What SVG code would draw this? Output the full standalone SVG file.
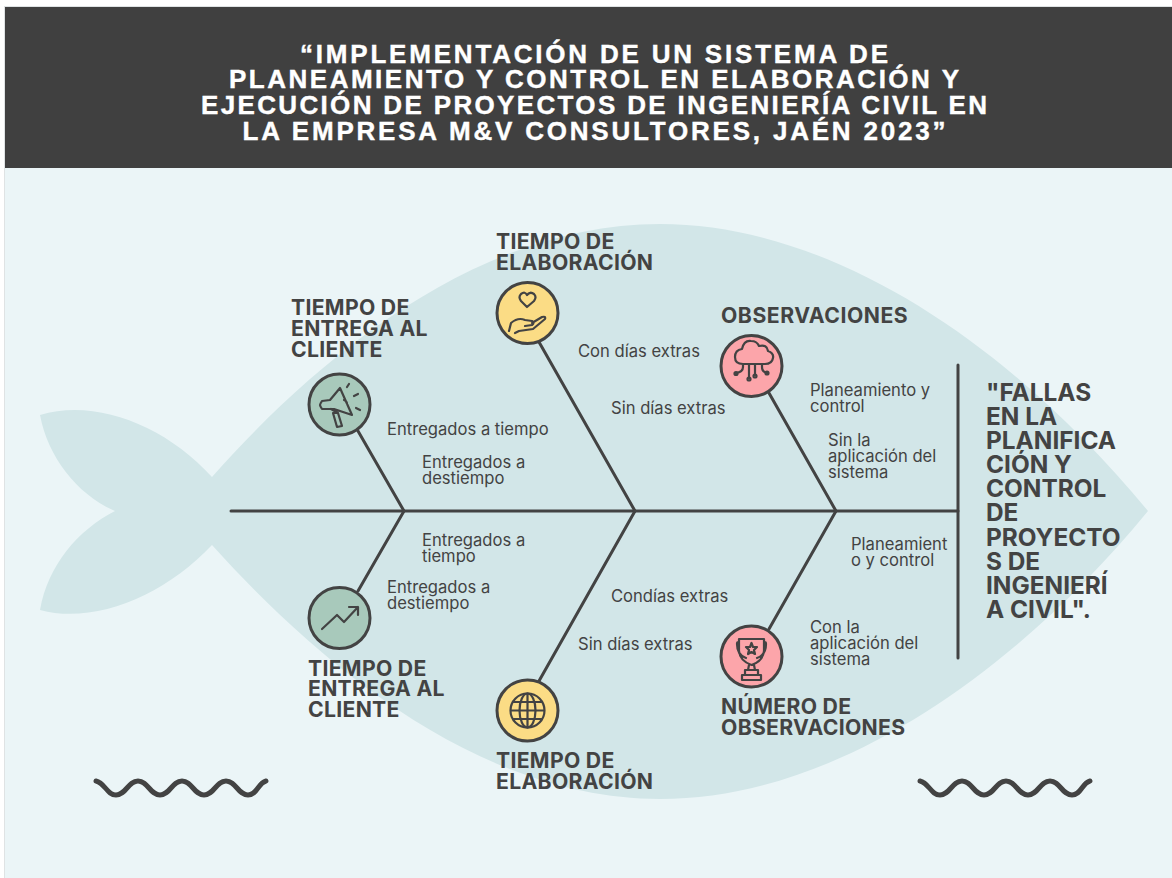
<svg xmlns="http://www.w3.org/2000/svg" width="1172" height="878" viewBox="0 0 1172 878">
<style>
.t{font-family:"Inter","Liberation Sans",sans-serif;fill:#434343}
.title{font-weight:700;font-size:26px;fill:#fff;text-anchor:middle;font-family:"Liberation Sans",sans-serif;stroke:#fff;stroke-width:.4}
.h{font-weight:700;font-size:21.2px;letter-spacing:.3px}
.l{font-size:16.6px}
.e{font-weight:700;font-size:24.4px}
.n{stroke:#434343;stroke-width:3}
.i{fill:none;stroke:#434343;stroke-width:2.2;stroke-linecap:round;stroke-linejoin:round}
.c{fill:none;stroke:#434343;stroke-width:3;stroke-linecap:round}
.w{fill:none;stroke:#434343;stroke-width:5;stroke-linecap:round}
</style>
<rect width="1172" height="878" fill="#fff"/>
<rect x="4" y="6" width="1168" height="872" fill="#dfe3e4"/>
<rect x="5" y="168" width="1167" height="710" fill="#ebf5f7"/>
<rect x="5" y="7" width="1167" height="161" fill="#404040"/>
<path id="fish" fill="#d2e6e8" d="M1148 511C1020 355 840 224 660 224C480 224 320 355 212 477C165 425 95 398 40 415C48 458 78 495 115 511C78 530 48 565 40 610C95 625 165 595 212 545C320 665 480 799 660 799C840 799 1020 667 1148 511Z"/>
<g id="title">
<text class="title" x="594" y="63" textLength="588">“IMPLEMENTACIÓN DE UN SISTEMA DE</text>
<text class="title" x="594" y="88" textLength="730">PLANEAMIENTO Y CONTROL EN ELABORACIÓN Y</text>
<text class="title" x="594" y="114" textLength="786">EJECUCIÓN DE PROYECTOS DE INGENIERÍA CIVIL EN</text>
<text class="title" x="594" y="140" textLength="703">LA EMPRESA M&amp;V CONSULTORES, JAÉN 2023”</text>
</g>
<g id="connectors">
<line class="c" x1="231" y1="511" x2="958" y2="511"/>
<line class="c" x1="958" y1="365" x2="958" y2="658"/>
<line class="c" x1="358" y1="431" x2="404" y2="511"/>
<line class="c" x1="358" y1="591" x2="404" y2="511"/>
<line class="c" x1="539" y1="342" x2="635" y2="511"/>
<line class="c" x1="539" y1="681" x2="635" y2="511"/>
<line class="c" x1="769" y1="393" x2="836" y2="511"/>
<line class="c" x1="769" y1="629" x2="836" y2="511"/>
</g>
<g id="effect"><text class="t e"><tspan x="986" y="401">"FALLAS</tspan><tspan x="986" y="425">EN LA</tspan><tspan x="986" y="449">PLANIFICA</tspan><tspan x="986" y="473">CIÓN Y</tspan><tspan x="986" y="497">CONTROL</tspan><tspan x="986" y="521">DE</tspan><tspan x="986" y="546">PROYECTO</tspan><tspan x="986" y="570">S DE</tspan><tspan x="986" y="594">INGENIERÍ</tspan><tspan x="986" y="618">A CIVIL".</tspan></text></g>
<g id="n1">
<circle class="n" cx="339.500" cy="404.500" r="30.500" fill="#a8c9bb"/>
<path class="i" d="M322 401l8-1 10-12 12 27-18-6-12 0q-2-3-2-4t2-4zM331 409l7 4-2 0-3 0 4 14 5-1-4-13M344 400q3 1 3 4M347 387l2-3M354 396l4-2M356 408l4 2"/>
<text class="t h"><tspan x="291" y="315">TIEMPO DE</tspan><tspan x="291" y="336">ENTREGA AL</tspan><tspan x="291" y="357">CLIENTE</tspan></text>
<text class="t l" x="387" y="435">Entregados a tiempo</text>
<text class="t l"><tspan x="422" y="468">Entregados a</tspan><tspan x="422" y="484">destiempo</tspan></text>
</g>
<g id="n2">
<circle class="n" cx="527.500" cy="313" r="30.500" fill="#fbdc85"/>
<path class="i" d="M527 307l-6-6q-3-4 0-7q4-3 6 1q3-4 7-1q3 3 0 7zM509 331l2-8q7-6 14-3l7 1q3 2 0 4l-7 1M532 323l10-6q4-1 3 2l-12 10-14 2-4 2"/>
<text class="t h"><tspan x="496" y="249">TIEMPO DE</tspan><tspan x="496" y="270">ELABORACIÓN</tspan></text>
<text class="t l" x="578" y="357">Con días extras</text>
<text class="t l" x="611" y="414">Sin días extras</text>
</g>
<g id="n3">
<circle class="n" cx="751.500" cy="366" r="30.500" fill="#fca5aa"/>
<path class="i" d="M743 364q-8 0-8-7t7-8q2-9 9-8 6 0 8 5 8-2 9 5 6 2 5 7-1 6-8 6zM749 364v14M755 364v11M743 364v3q0 5-7 6M762 364v3q0 5 5 6"/>
<g class="i"><circle cx="736" cy="373.500" r="1.500"/><circle cx="749" cy="379" r="1.500"/><circle cx="755" cy="376" r="1.500"/><circle cx="767" cy="373" r="1.500"/></g>
<text class="t h" x="721" y="323" textLength="187">OBSERVACIONES</text>
<text class="t l"><tspan x="810" y="396">Planeamiento y</tspan><tspan x="810" y="412">control</tspan></text>
<text class="t l"><tspan x="828" y="446">Sin la</tspan><tspan x="828" y="462">aplicación del</tspan><tspan x="828" y="478">sistema</tspan></text>
</g>
<g id="n4">
<circle class="n" cx="339.500" cy="618" r="30.500" fill="#a8c9bb"/>
<path class="i" stroke-width="2.6" d="M322 629l15-14 7 7 14-15M349 607h9v8"/>
<text class="t h"><tspan x="308" y="676">TIEMPO DE</tspan><tspan x="308" y="696">ENTREGA AL</tspan><tspan x="308" y="717">CLIENTE</tspan></text>
<text class="t l"><tspan x="422" y="546">Entregados a</tspan><tspan x="422" y="562">tiempo</tspan></text>
<text class="t l"><tspan x="387" y="593">Entregados a</tspan><tspan x="387" y="609">destiempo</tspan></text>
</g>
<g id="n5">
<circle class="n" cx="527.500" cy="710.500" r="30.500" fill="#fbdc85"/>
<g class="i"><circle cx="527.500" cy="710.500" r="17"/><ellipse cx="527.500" cy="710.500" rx="8" ry="17"/><path d="M527.500 693.500v34M513 702h29M511 710.500h33M513 719h29"/></g>
<text class="t h"><tspan x="496" y="768">TIEMPO DE</tspan><tspan x="496" y="789">ELABORACIÓN</tspan></text>
<text class="t l" x="611" y="602">Condías extras</text>
<text class="t l" x="578" y="650">Sin días extras</text>
</g>
<g id="n6">
<circle class="n" cx="751.500" cy="656.500" r="30.500" fill="#fca5aa"/>
<path class="i" d="M739 639h25v12q-1 10-12.500 14q-11.500-4-12.500-14zM739 642h-1q-1 0 -1 2q0 11 9 14M764 642h1q1 0 1 2q0 11-9 14M749 665l-1 5h7l-1-5M745 670h13v5h-13zM742 675h19v5h-19zM751.500 643l1.500 4h4l-3 3 1 4-3.500-2-3.500 2 1-4-3-3h4z"/>
<text class="t h"><tspan x="721" y="714">NÚMERO DE</tspan><tspan x="721" y="735">OBSERVACIONES</tspan></text>
<text class="t l"><tspan x="851" y="550">Planeamient</tspan><tspan x="851" y="566">o y control</tspan></text>
<text class="t l"><tspan x="810" y="633">Con la</tspan><tspan x="810" y="649">aplicación del</tspan><tspan x="810" y="665">sistema</tspan></text>
</g>
<path class="w" d="M96 781C105 783 107 795 116 795C126 795 128 781 138 781C148 781 150 795 160 795C170 795 172 781 182 781C192 781 194 795 204 795C214 795 216 781 226 781C236 781 238 795 248 795C257 795 258 783 266 781"/>
<path class="w" d="M920 781C929 783 931 795 940 795C950 795 952 781 962 781C972 781 974 795 984 795C994 795 996 781 1006 781C1016 781 1018 795 1028 795C1038 795 1040 781 1050 781C1060 781 1062 795 1072 795C1081 795 1082 783 1090 781"/>
</svg>
